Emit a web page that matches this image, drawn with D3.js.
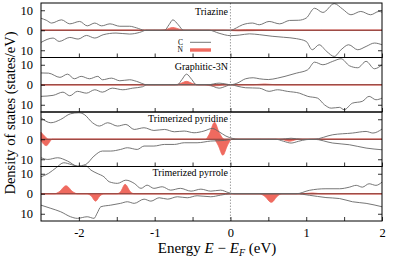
<!DOCTYPE html>
<html><head><meta charset="utf-8">
<script src="https://cdn.jsdelivr.net/npm/d3@7"></script>
<style>body{margin:0;background:#fff}svg{display:block}text{font-family:"Liberation Serif","DejaVu Serif",serif}</style>
</head><body><svg id="c" width="399" height="258"></svg>
<script>
// ---- data (energy eV, DOS states/eV) ----
const panelNames = ["Triazine", "Graphitic-3N", "Trimerized pyridine", "Trimerized pyrrole"];
const xTicks = [-2, -1.5, -1, -0.5, 0, 0.5, 1, 1.5, 2];
const xTickLabels = ["-2", "-1", "0", "1", "2"];
const yTicks = [-10, 0, 10];

const triazineC_up = [[-2.5,6],[-2.43,5],[-2.36,3.6],[-2.23,5.2],[-2.12,3.2],[-1.99,4.4],[-1.89,2.2],[-1.79,3.6],[-1.7,2.2],[-1.59,3.2],[-1.46,2.0],[-1.33,2.0],[-1.24,1.2],[-1.13,0],[-1.0,0],[-0.87,0],[-0.81,2.8],[-0.76,5.2],[-0.69,2.8],[-0.62,0],[-0.4,0],[-0.2,0],[0,0],[0.08,1.2],[0.16,2.75],[0.29,3.6],[0.38,2.75],[0.51,4.4],[0.65,3.2],[0.78,4.9],[0.9,5],[1.0,6.1],[1.11,11],[1.22,8.9],[1.37,13.3],[1.48,10.6],[1.59,7.75],[1.72,9.4],[1.85,7.75],[1.96,9.4],[2.0,9]];
const triazineC_dn = [[-2.5,-6.1],[-2.34,-3.9],[-2.26,-5.6],[-2.12,-3.6],[-2.01,-4.4],[-1.9,-2.6],[-1.79,-3.9],[-1.68,-2.25],[-1.51,-1.4],[-1.33,-1.9],[-1.2,-1.1],[-1.11,0],[-0.8,0],[-0.5,0],[-0.28,0],[-0.15,-1.5],[0,-2.7],[0.12,-2.4],[0.25,-1.8],[0.38,-2.2],[0.55,-3.0],[0.7,-3.5],[0.87,-4.2],[1.0,-5.6],[1.08,-9.75],[1.17,-7.25],[1.27,-10.6],[1.37,-13.1],[1.46,-9.75],[1.56,-7.25],[1.68,-9.75],[1.79,-8.1],[1.9,-6.4],[2.0,-7.25]];
const triazineN_up = [[-2.5,0],[-1.5,0],[-0.92,0],[-0.86,0.3],[-0.76,1.4],[-0.67,0.5],[-0.6,0],[-0.2,0],[0,0],[0.2,0.3],[0.4,0.2],[0.6,0],[1.2,0],[2.0,0]];
const triazineN_dn = [[-2.5,0],[-1.0,0],[-0.1,0],[0.1,-0.3],[0.3,-0.2],[0.5,0],[1.2,0],[2.0,0]];

const graphiticC_up = [[-2.5,5.9],[-2.4,5.8],[-2.25,3.7],[-2.15,5.3],[-2.06,3],[-1.97,4.2],[-1.86,3],[-1.75,4.2],[-1.69,2.5],[-1.57,3.3],[-1.46,2],[-1.33,2.5],[-1.24,1.7],[-1.1,0],[-0.9,0],[-0.7,0],[-0.64,2.6],[-0.58,5.3],[-0.51,2.6],[-0.45,0],[-0.3,0],[-0.15,0.8],[-0.05,0.3],[0,0],[0.1,1],[0.2,3],[0.3,3.5],[0.38,3],[0.5,2.6],[0.62,3.3],[0.72,4.2],[0.87,5.8],[1.02,7.5],[1.11,11.3],[1.22,10],[1.35,11.7],[1.46,13],[1.57,9.5],[1.68,8.5],[1.79,11.7],[1.9,8],[2.0,10]];
const graphiticC_dn = [[-2.5,-5.8],[-2.34,-5.3],[-2.21,-3.7],[-2.12,-5.5],[-2.02,-3.3],[-1.9,-4.2],[-1.79,-2.5],[-1.69,-3.7],[-1.56,-1.7],[-1.42,-2.5],[-1.29,-1.7],[-1.16,-1],[-1.1,0],[-0.8,0],[-0.5,0],[-0.3,0],[-0.15,-1.7],[-0.05,-0.6],[0,0],[0.1,-0.8],[0.2,-1.5],[0.38,-1.7],[0.51,-3.3],[0.62,-2.5],[0.75,-3.3],[0.91,-4.2],[1.02,-5.8],[1.15,-6.7],[1.24,-10],[1.33,-11.7],[1.44,-11.3],[1.5,-12.5],[1.61,-9.2],[1.74,-8.3],[1.83,-5.8],[1.92,-7.5],[2.0,-6.7]];
const graphiticN_up = [[-2.5,0],[-1.5,0],[-0.74,0],[-0.66,0.6],[-0.58,1.7],[-0.5,0.6],[-0.42,0],[0,0],[0.3,0],[0.45,0.4],[0.6,0],[1.2,0],[2.0,0]];
const graphiticN_dn = [[-2.5,0],[-1.0,0],[-0.34,0],[-0.25,-0.6],[-0.15,-0.4],[-0.07,0],[0.5,0],[2.0,0]];

const pyridineC_up = [[-2.5,10.75],[-2.37,8.25],[-2.24,9.9],[-2.11,12.75],[-2.0,13.25],[-1.93,12.4],[-1.82,8.25],[-1.73,6.6],[-1.62,8.25],[-1.49,6.6],[-1.38,7.4],[-1.27,4.9],[-1.14,5.75],[-1.01,4.4],[-0.87,4.9],[-0.74,3.75],[-0.61,4.1],[-0.48,3.25],[-0.35,4.1],[-0.24,5.4],[-0.15,3.75],[-0.06,1.6],[0.03,0.4],[0.1,0],[0.4,0],[0.65,0],[0.8,0.5],[0.95,0],[1.1,0],[1.35,2.25],[1.61,3.1],[1.79,3.9],[1.88,3.1],[2.0,5.1]];
const pyridineC_dn = [[-2.5,-9.25],[-2.41,-10.1],[-2.28,-9.25],[-2.15,-10.9],[-2.02,-13.4],[-1.91,-12.6],[-1.8,-8.4],[-1.69,-5.9],[-1.58,-5.9],[-1.45,-5.1],[-1.36,-4.25],[-1.23,-5.1],[-1.14,-3.4],[-1.01,-3.4],[-0.87,-2.6],[-0.74,-2.6],[-0.61,-1.75],[-0.44,-1.75],[-0.26,-0.9],[-0.08,-0.6],[0.03,0],[0.3,0],[0.6,0],[0.7,-1],[0.8,-1.9],[0.9,-1],[1.0,-0.2],[1.1,0],[1.35,-1.9],[1.57,-2.75],[1.79,-4.4],[2.0,-5.25]];
const pyridineN_up = [[-2.5,3.5],[-2.45,1.5],[-2.4,0],[-1.5,0],[-0.5,0],[-0.33,0],[-0.28,2.5],[-0.21,8.5],[-0.15,3.5],[-0.08,0],[0.5,0],[2.0,0]];
const pyridineN_dn = [[-2.5,-0.8],[-2.43,-3.2],[-2.35,0],[-1.5,0],[-0.5,0],[-0.22,0],[-0.16,-3.2],[-0.1,-8],[-0.04,-3.2],[0.02,0],[0.4,0],[0.66,0],[0.78,-1],[0.9,0],[1.4,0],[2.0,0]];

const pyrroleC_up = [[-2.5,8.5],[-2.4,10.2],[-2.3,13],[-2.2,15.5],[-2.1,14.6],[-2.0,13.6],[-1.91,14],[-1.84,11.8],[-1.76,10.2],[-1.67,8.5],[-1.6,6],[-1.49,5.2],[-1.38,6.8],[-1.27,5.2],[-1.18,2.7],[-1.1,4.3],[-1.01,2.7],[-0.9,3.5],[-0.79,1.8],[-0.66,2.7],[-0.52,1.3],[-0.39,2.3],[-0.26,1.3],[-0.13,1.8],[-0.02,0.5],[0.05,0],[0.4,0],[0.87,0],[1.04,1.7],[1.26,2.5],[1.44,2.5],[1.57,3.3],[1.66,4.2],[1.74,3.3],[1.83,5],[1.92,4.2],[2.0,5.8]];
const pyrroleC_dn = [[-2.5,-5.7],[-2.37,-7.3],[-2.24,-9],[-2.11,-11.5],[-2.02,-12.3],[-1.89,-11.5],[-1.8,-12.3],[-1.76,-9.8],[-1.71,-6.5],[-1.58,-5.7],[-1.45,-4.8],[-1.36,-4],[-1.27,-4.8],[-1.14,-2.7],[-1.05,-3.7],[-0.94,-2],[-0.83,-2.7],[-0.7,-1.5],[-0.57,-2],[-0.44,-1],[-0.26,-1.5],[-0.13,-0.7],[0,0],[0.4,0],[0.87,0],[1.04,-0.75],[1.26,-1.9],[1.44,-2.4],[1.61,-4],[1.79,-4.8],[2.0,-6.5]];
const pyrroleN_up = [[-2.5,0],[-2.32,0],[-2.26,1],[-2.17,4],[-2.08,1],[-2.02,0],[-1.5,0],[-1.45,1],[-1.39,4.7],[-1.32,1],[-1.27,0],[0.5,0],[0.95,0],[1.08,0.4],[1.2,0],[2.0,0]];
const pyrroleN_dn = [[-2.5,0],[-1.9,0],[-1.84,-1],[-1.78,-3.7],[-1.72,-1],[-1.66,0],[0.38,0],[0.45,-1.2],[0.54,-4.3],[0.62,-1.2],[0.68,0],[2.0,0]];

const cUp = [triazineC_up, graphiticC_up, pyridineC_up, pyrroleC_up];
const cDn = [triazineC_dn, graphiticC_dn, pyridineC_dn, pyrroleC_dn];
const nUp = [triazineN_up, graphiticN_up, pyridineN_up, pyrroleN_up];
const nDn = [triazineN_dn, graphiticN_dn, pyridineN_dn, pyrroleN_dn];

// ---- layout ----
const svg = d3.select("#c");
const L = 41, R = 382, T = 3, PH = 54.5;
const RED = "#ef6a5f", GRAY = "#666";
const x = d3.scaleLinear().domain([-2.5, 2]).range([L, R]);
const titleBase = [12, 12, 10, 9.5];

panelNames.forEach((name, i) => {
  const top = T + i * PH;
  const y = d3.scaleLinear().domain([-13.625, 13.625]).range([top + PH, top]);
  const g = svg.append("g");
  const curve = d3.curveMonotoneX;
  const area = d3.area().x(d => x(d[0])).y0(y(0)).y1(d => y(d[1])).curve(curve);
  const line = d3.line().x(d => x(d[0])).y(d => y(d[1])).curve(curve);
  [nUp[i], nDn[i]].forEach(s => {
    g.append("path").attr("d", area(s)).attr("fill", RED).attr("stroke", RED).attr("stroke-width", 0.8);
  });
  g.append("line").attr("x1", L).attr("x2", R).attr("y1", y(0)).attr("y2", y(0))
    .attr("stroke", "#3a2424").attr("stroke-width", 0.8).attr("opacity", 0.75);
  [cUp[i], cDn[i]].forEach(s => {
    g.append("path").attr("d", line(s)).attr("fill", "none").attr("stroke", GRAY).attr("stroke-width", 0.9);
  });
  // Fermi level
  g.append("line").attr("x1", x(0)).attr("x2", x(0)).attr("y1", top).attr("y2", top + PH)
    .attr("stroke", "#888").attr("stroke-width", 0.8).attr("stroke-dasharray", "1.5,1.5");
  // axes
  const ya = g.append("g").attr("transform", `translate(${L},0)`)
    .call(d3.axisLeft(y).tickValues(yTicks).tickFormat(d => Math.abs(d)).tickSizeInner(-4).tickSizeOuter(0).tickPadding(8));
  ya.select(".domain").remove();
  ya.selectAll("text").attr("font-size", 12.5).attr("font-family", "Liberation Serif, serif");
  ya.selectAll("line").attr("stroke", "#000").attr("stroke-width", 0.8);
  const yr = g.append("g").attr("transform", `translate(${R},0)`)
    .call(d3.axisRight(y).tickValues([-10, 10]).tickFormat("").tickSizeInner(-4).tickSizeOuter(0));
  yr.select(".domain").remove();
  yr.selectAll("line").attr("stroke", "#000").attr("stroke-width", 0.8);
  const last = i === panelNames.length - 1;
  const xa = g.append("g").attr("transform", `translate(0,${top + PH})`)
    .call(d3.axisBottom(x).tickValues(xTicks).tickSizeInner(-4).tickSizeOuter(0).tickPadding(7)
      .tickFormat(d => (last && Number.isInteger(d)) ? xTickLabels[d + 2] : ""));
  xa.select(".domain").remove();
  xa.selectAll("text").attr("font-size", 12.5).attr("font-family", "Liberation Serif, serif");
  xa.selectAll("line").attr("stroke", "#000").attr("stroke-width", 0.8);
  // frame
  g.append("rect").attr("x", L).attr("y", top).attr("width", R - L).attr("height", PH)
    .attr("fill", "none").attr("stroke", "#000").attr("stroke-width", 1);
  // title
  g.append("text").attr("x", 228).attr("y", top + titleBase[i]).attr("text-anchor", "end")
    .attr("font-size", 10).text(name);
});

// legend (panel 1)
const lg = svg.append("g");
lg.append("text").attr("x", 183).attr("y", 44.6).attr("text-anchor", "end").attr("font-size", 7.5).text("C");
lg.append("line").attr("x1", 190).attr("x2", 211).attr("y1", 42.3).attr("y2", 42.3).attr("stroke", GRAY).attr("stroke-width", 0.9);
lg.append("text").attr("x", 183).attr("y", 52.4).attr("text-anchor", "end").attr("font-size", 7.5).text("N");
lg.append("rect").attr("x", 190).attr("y", 48.3).attr("width", 21).attr("height", 3.4).attr("fill", RED);

// axis titles
svg.append("text").attr("transform", "translate(15,113) rotate(-90)").attr("text-anchor", "middle")
  .attr("font-size", 14.5).text("Density of states (states/eV)");
const xl = svg.append("text").attr("x", 217).attr("y", 252.5).attr("text-anchor", "middle").attr("font-size", 15);
xl.append("tspan").text("Energy ");
xl.append("tspan").attr("font-style", "italic").text("E");
xl.append("tspan").text(" − ");
xl.append("tspan").attr("font-style", "italic").text("E");
xl.append("tspan").attr("font-style", "italic").attr("font-size", 10).attr("dy", 3).text("F");
xl.append("tspan").attr("dy", -3).text(" (eV)");
</script></body></html>
